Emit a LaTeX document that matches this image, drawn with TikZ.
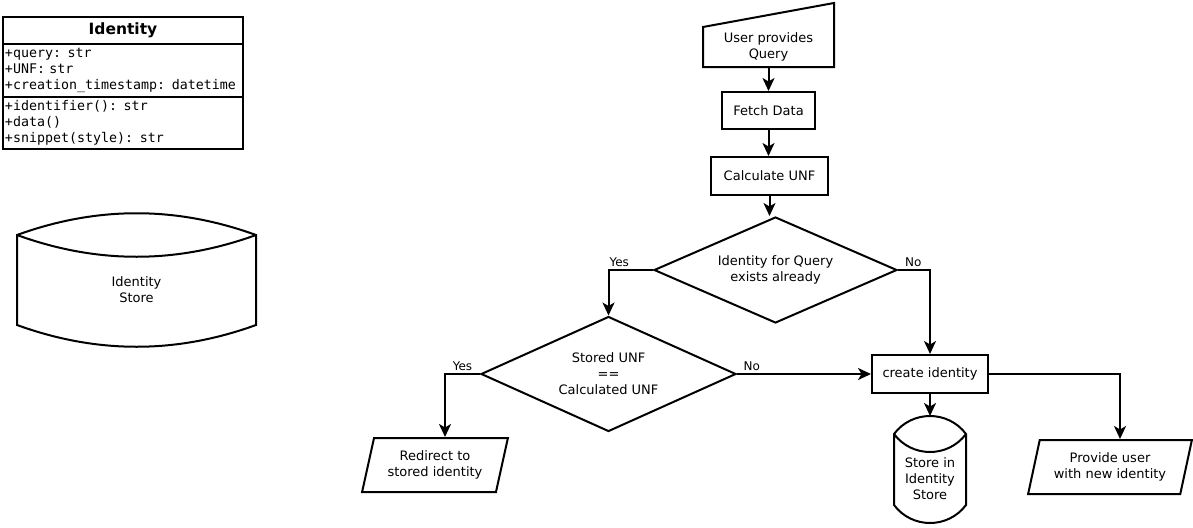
\documentclass[tikz,border=0pt]{standalone}
\usepackage{fontspec}
\setmainfont{DejaVu Sans}
\setmonofont{DejaVu Sans Mono}
\usetikzlibrary{shapes.geometric,arrows.meta,positioning}

\begin{document}
\begin{tikzpicture}[x=1pt,y=-1pt,line width=2pt,
  font=\fontsize{13}{16}\selectfont,
  >={Stealth[length=13pt,width=12pt,inset=3.5pt]},
  proc/.style={draw,rectangle,inner sep=0pt,align=center},
  decide/.style={draw,diamond,aspect=2.3,inner sep=0pt,align=center},
  io/.style={draw,trapezium,trapezium left angle=72,trapezium right angle=108,
    trapezium stretches=true,inner sep=0pt,minimum height=54pt,align=center},
  lbl/.style={font=\fontsize{12}{14}\selectfont,inner sep=2pt},
  umlpart/.style={draw,rectangle,outer sep=0pt,text width=236pt,inner xsep=2pt,
    inner ysep=0pt,align=left,font=\ttfamily\fontsize{13.3}{16}\selectfont}]
  \useasboundingbox (0,0) rectangle (1193,527);

  % class box
  \node[draw,outer sep=0pt,minimum width=240pt,minimum height=27pt,inner sep=0pt,
    font=\bfseries\fontsize{15.5}{18}\selectfont] (cls) at (123,30.5) {Identity};
  \node[umlpart,minimum height=53pt,below=0pt of cls] (cls-attr)
    {+query: str\\+UNF: str\\+creation\_timestamp: datetime};
  \node[umlpart,minimum height=52pt,below=0pt of cls-attr] (cls-ops)
    {+identifier(): str\\+data()\\+snippet(style): str};

  % big store
  \draw (17,235) .. controls (97,206) and (176,206) .. (256,235) -- (256,325)
    .. controls (176,354) and (97,354) .. (17,325) -- cycle
    (17,235) .. controls (97,264) and (176,264) .. (256,235);
  \node[align=center] (idstore) at (136.5,290) {Identity\\ Store};

  % flow
  \node[proc,draw=none,outer sep=0pt,minimum width=131pt,minimum height=40pt] (user)
    at (768.5,47) {User provides\\Query};
  \draw (user.south west) -- (user.north west) -- ([yshift=24pt]user.north east)
    -- (user.south east) -- cycle;
  \node[proc,minimum width=93pt,minimum height=37pt] (fetch) at (768.5,110.5) {Fetch Data};
  \node[proc,minimum width=117pt,minimum height=38pt] (calc) at (769.5,176) {Calculate UNF};
  \node[decide,minimum width=243pt,minimum height=106pt] (exists) at (775.5,270)
    {Identity for Query\\exists already};
  \node[decide,minimum width=255pt,minimum height=115pt] (same) at (608.5,374)
    {Stored UNF\\==\\Calculated UNF};
  \node[proc,minimum width=116pt,minimum height=38pt] (create) at (930,374) {create identity};
  \node[io,minimum width=146pt] (redirect) at (435,465) {Redirect to\\stored identity};
  \node[io,minimum width=164pt] (provide) at (1110,467) {Provide user\\with new identity};

  % small store
  \draw (894,434) .. controls (912,410) and (948,410) .. (966,434) -- (966,505)
    .. controls (948,529) and (912,529) .. (894,505) -- cycle
    (894,434) .. controls (912,458) and (948,458) .. (966,434);
  \node[align=center] (store) at (930,479) {Store in\\Identity\\Store};
  \coordinate (store-top) at (930,416);

  \path[->]
    (user) edge (fetch)
    (fetch.south) edge (fetch.south |- calc.north)
    (calc.south) edge (calc.south |- exists.north)
    (create) edge (store-top);
  \draw[->] (exists.west) -| node[lbl,above,pos=0.38] (yes-exists) {Yes} (same.north);
  \draw[->] (exists.east) -| node[lbl,above,pos=0.24] (no-exists) {No} (create.north);
  \draw[->] (same.west) -| node[lbl,above,pos=0.25] (yes-same) {Yes}
    ([xshift=10pt]redirect.north);
  \draw[->] (same.east) -- node[lbl,above,pos=0.11] (no-same) {No} (create.west);
  \draw[->] (create.east) -| ([xshift=10pt]provide.north);
\end{tikzpicture}
\end{document}
